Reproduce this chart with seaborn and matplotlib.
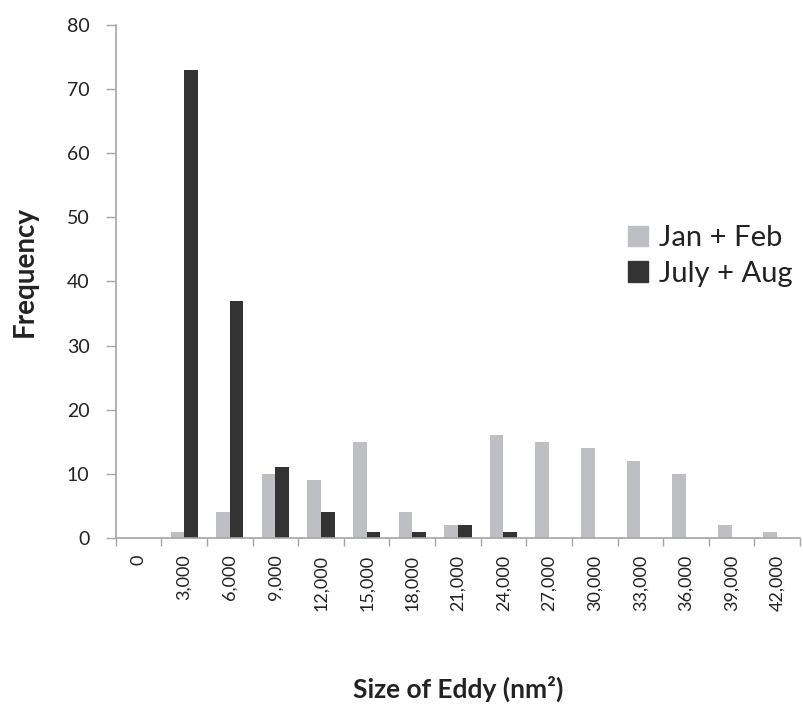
import matplotlib
matplotlib.use("Agg")
import matplotlib.pyplot as plt
import seaborn as sns
import pandas as pd
import numpy as np

# Eddy size bins (nm^2) and frequency per season
size_labels = ["0", "3,000", "6,000", "9,000", "12,000", "15,000", "18,000",
               "21,000", "24,000", "27,000", "30,000", "33,000", "36,000",
               "39,000", "42,000"]
jan_feb = [0, 1, 4, 10, 9, 15, 4, 2, 16, 15, 14, 12, 10, 2, 1]
july_aug = [0, 73, 37, 11, 4, 1, 1, 2, 1, 0, 0, 0, 0, 0, 0]
series_names = ["Jan + Feb", "July + Aug"]

df = pd.DataFrame({
    "size": size_labels * 2,
    "freq": jan_feb + july_aug,
    "season": [series_names[0]] * len(size_labels) + [series_names[1]] * len(size_labels),
})

sns.set_theme(style="white")
plt.rcParams["font.family"] = ["Lato", "DejaVu Sans"]

fig = plt.figure(figsize=(8.04, 7.07), dpi=100)
ax = fig.add_axes([0.144, 0.239, 0.851, 0.726])

palette = {series_names[0]: "#BEBFC2", series_names[1]: "#333333"}
sns.barplot(data=df, x="size", y="freq", hue="season", order=size_labels,
            hue_order=series_names, palette=palette, width=0.6, gap=0,
            saturation=1, edgecolor="none", ax=ax, legend=False)

ax.set_ylim(0, 80)
ax.set_xlim(-0.5, len(size_labels) - 0.5)
ax.set_yticks(range(0, 81, 10))
ax.tick_params(axis="y", labelsize=14, colors="#222222", length=7, width=1,
               color="#A6A6A6", direction="out", left=True, pad=12)
ax.set_xticks(range(len(size_labels)))
ax.set_xticklabels(size_labels, rotation=90)
ax.tick_params(axis="x", which="major", labelsize=13, colors="#222222",
               length=0, pad=12)
ax.set_xticks(np.arange(-0.5, len(size_labels), 1.0), minor=True)
ax.tick_params(axis="x", which="minor", length=6, width=1, color="#A6A6A6",
               direction="out", bottom=True)

for side in ["top", "right"]:
    ax.spines[side].set_visible(False)
for side in ["left", "bottom"]:
    ax.spines[side].set_color("#A6A6A6")
    ax.spines[side].set_linewidth(1.2)

ax.set_ylabel("Frequency", fontsize=20, fontweight="bold", color="#222222", labelpad=21)
ax.yaxis.label.set_y(0.52)
ax.set_xlabel("Size of Eddy (nm²)", fontsize=19, fontweight="bold",
              color="#222222", labelpad=47)

handles = [plt.Rectangle((0, 0), 1, 1, color=palette[n]) for n in series_names]
fig.legend(handles, series_names, loc="center left", bbox_to_anchor=(0.781, 0.638),
           frameon=False, fontsize=21, handlelength=0.7, handleheight=0.7,
           handletextpad=0.35, labelspacing=0.33, borderpad=0, borderaxespad=0,
           labelcolor="#222222")

fig.savefig("out.png", dpi=100)
